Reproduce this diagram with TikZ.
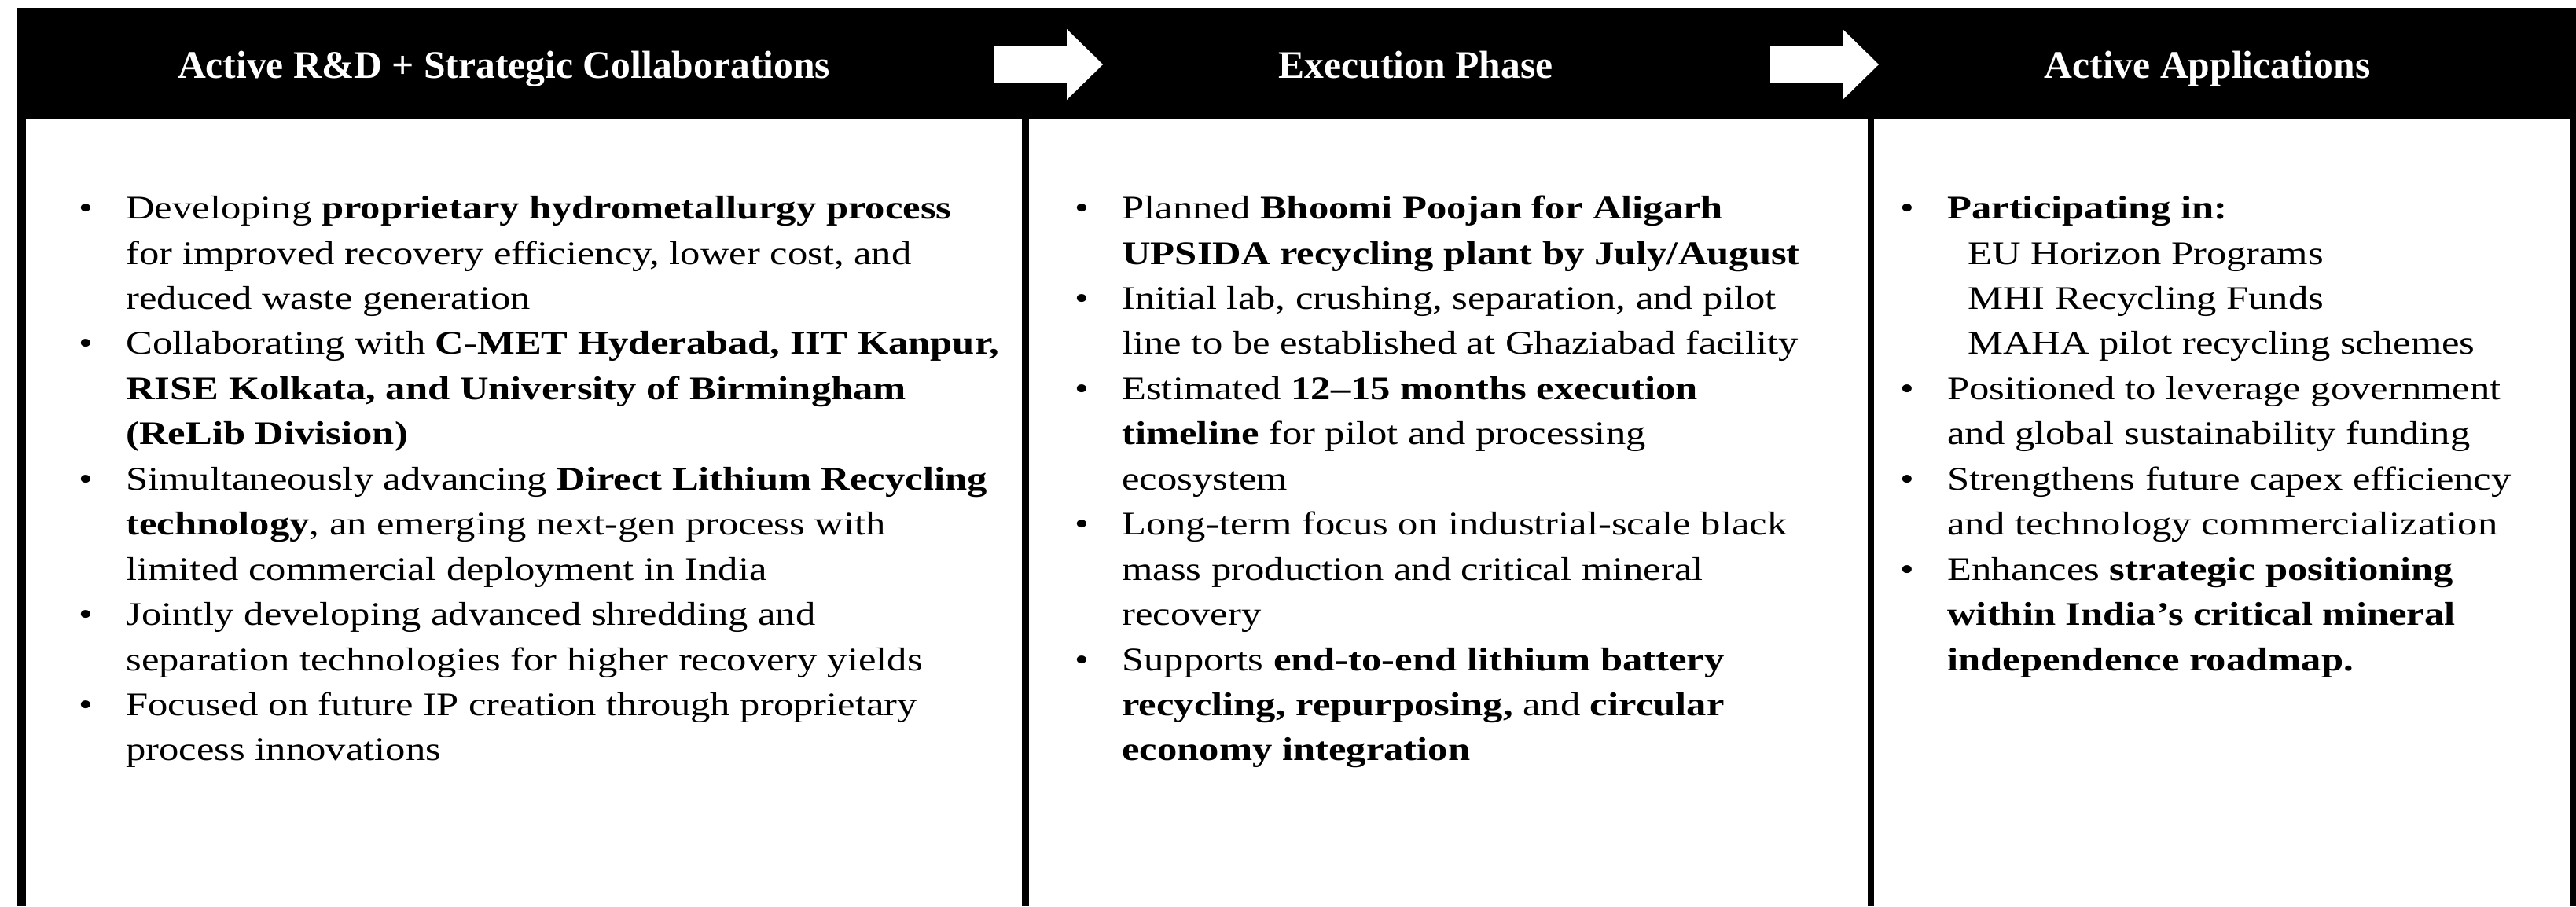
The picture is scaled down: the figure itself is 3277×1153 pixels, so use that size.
\documentclass[tikz,border=0pt]{standalone}
\usepackage{fontspec}
\setmainfont{Liberation Serif}
\newfontfamily\bodyfont{Liberation Serif}[FakeStretch=1.205]
\newfontfamily\headfont{Liberation Serif}
\newcommand{\bul}{\makebox[30pt][l]{\textbullet}}
\newcommand{\ind}{\hspace*{30pt}}
\newcommand{\subind}{\hspace*{43pt}}
\begin{document}
\begin{tikzpicture}[x=0.5pt,y=-0.5pt,
  hdrtext/.style={anchor=base, inner sep=0pt, text=white,
    font=\headfont\fontsize{24.8}{30}\selectfont\bfseries},
  bodytext/.style={anchor=north west, inner sep=0pt,
    font=\bodyfont\fontsize{21}{28.72}\selectfont},
  bar/.style={fill=black},
  blockarrow/.style={fill=white, draw=none}]
\useasboundingbox (0,0) rectangle (3277,1153);
\fill[white] (0,0) rectangle (3277,1153);
% header band
\fill[bar] (22,10) rectangle (3277,152);
% column borders
\fill[bar] (22,150) rectangle (33,1153);
\fill[bar] (1300,150) rectangle (1309,1153);
\fill[bar] (2376,150) rectangle (2384,1153);
\fill[bar] (3269,150) rectangle (3277,1153);
% arrows
\fill[blockarrow] (1265,59) -- (1357,59) -- (1357,37) -- (1403,82)
  -- (1357,127) -- (1357,105) -- (1265,105) -- cycle;
\fill[blockarrow] (2252,59) -- (2344,59) -- (2344,37) -- (2390,82)
  -- (2344,127) -- (2344,105) -- (2252,105) -- cycle;
% headers
\node[hdrtext] (h1) at (641,99) {Active R\&D + Strategic Collaborations};
\node[hdrtext] (h2) at (1801,99) {Execution Phase};
\node[hdrtext] (h3) at (2808,99) {Active Applications};
% column 1
\node[bodytext] (b1) at (100,238) {\begin{tabular}{@{}l@{}}
\bul Developing \textbf{proprietary hydrometallurgy process}\\
\ind for improved recovery efficiency, lower cost, and\\
\ind reduced waste generation\\
\bul Collaborating with \textbf{C-MET Hyderabad, IIT Kanpur,}\\
\ind\textbf{RISE Kolkata, and University of Birmingham}\\
\ind\textbf{(ReLib Division)}\\
\bul Simultaneously advancing \textbf{Direct Lithium Recycling}\\
\ind\textbf{technology}, an emerging next-gen process with\\
\ind limited commercial deployment in India\\
\bul Jointly developing advanced shredding and\\
\ind separation technologies for higher recovery yields\\
\bul Focused on future IP creation through proprietary\\
\ind process innovations
\end{tabular}};
% column 2
\node[bodytext] (b2) at (1367,238) {\begin{tabular}{@{}l@{}}
\bul Planned \textbf{Bhoomi Poojan for Aligarh}\\
\ind\textbf{UPSIDA recycling plant by July/August}\\
\bul Initial lab, crushing, separation, and pilot\\
\ind line to be established at Ghaziabad facility\\
\bul Estimated \textbf{12–15 months execution}\\
\ind\textbf{timeline} for pilot and processing\\
\ind ecosystem\\
\bul Long-term focus on industrial-scale black\\
\ind mass production and critical mineral\\
\ind recovery\\
\bul Supports \textbf{end-to-end lithium battery}\\
\ind\textbf{recycling, repurposing,} and \textbf{circular}\\
\ind\textbf{economy integration}
\end{tabular}};
% column 3
\node[bodytext] (b3) at (2417,238) {\begin{tabular}{@{}l@{}}
\bul\textbf{Participating in:}\\
\subind EU Horizon Programs\\
\subind MHI Recycling Funds\\
\subind MAHA pilot recycling schemes\\
\bul Positioned to leverage government\\
\ind and global sustainability funding\\
\bul Strengthens future capex efficiency\\
\ind and technology commercialization\\
\bul Enhances \textbf{strategic positioning}\\
\ind\textbf{within India’s critical mineral}\\
\ind\textbf{independence roadmap.}
\end{tabular}};
\end{tikzpicture}
\end{document}
